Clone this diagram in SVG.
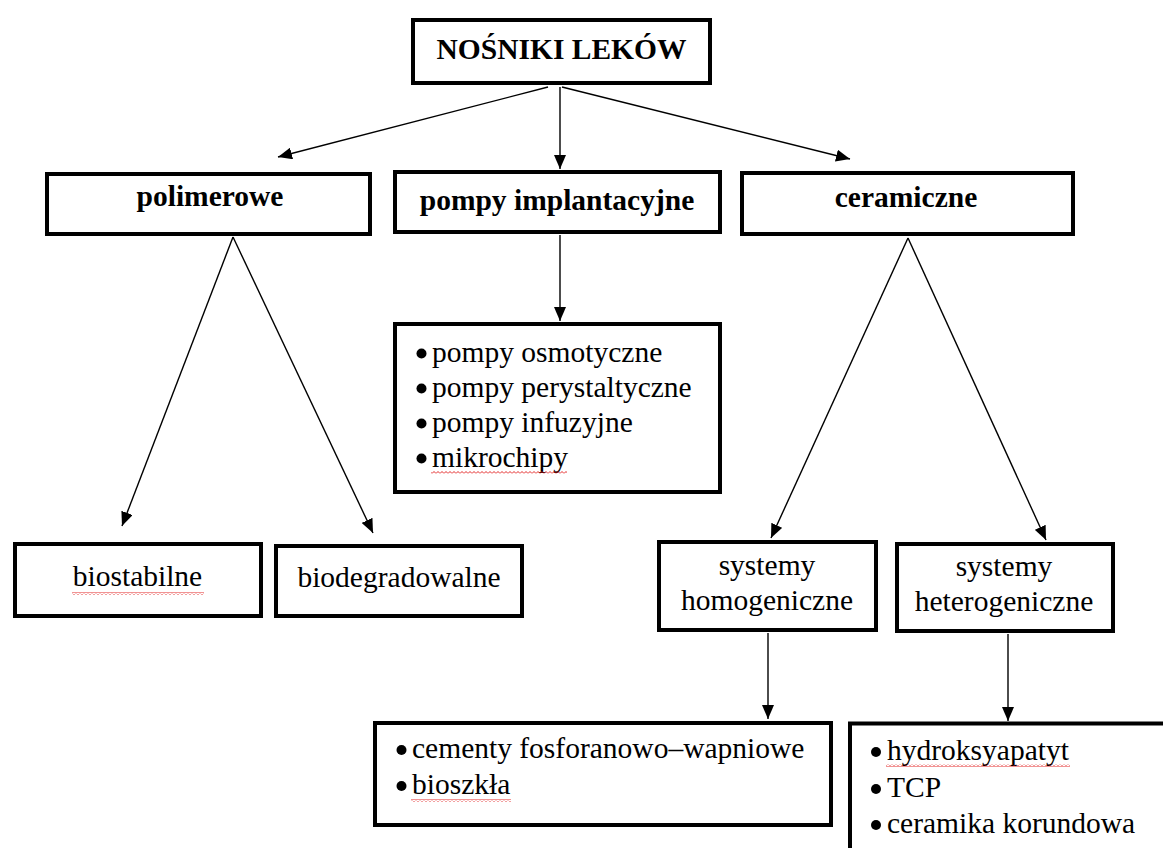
<svg xmlns="http://www.w3.org/2000/svg" width="1163" height="848" viewBox="0 0 1163 848">
<style>
.box{fill:#fff;stroke:#000;stroke-width:4;stroke-linejoin:miter}
text{font-family:'Liberation Serif','Tinos','Times New Roman','DejaVu Serif',serif;font-size:29.5px;fill:#000}
.b{font-weight:bold}
.c{text-anchor:middle}
.con line{stroke:#000;stroke-width:1.4;marker-end:url(#ah)}
.sq{fill:url(#squig)}
.dot{fill:#000}
</style>
<defs>
<marker id="ah" markerUnits="userSpaceOnUse" markerWidth="14" markerHeight="12" refX="14" refY="6" orient="auto" viewBox="0 0 14 12">
<path d="M0,0 L14,6 L0,12 z" fill="#000"/>
</marker>
<pattern id="squig" patternUnits="userSpaceOnUse" x="0" y="0" width="4" height="3">
<polyline points="0,2.5 2,0.5 4,2.5" fill="none" stroke="#e01010" stroke-width="0.9"/>
</pattern>
</defs>
<rect width="1163" height="848" fill="#fff"/>

<g id="connectors" class="con">
<line x1="560" y1="87" x2="560" y2="169"/>
<line x1="548" y1="87" x2="278" y2="157"/>
<line x1="562" y1="87" x2="850" y2="159"/>
<line x1="233" y1="237" x2="122" y2="526"/>
<line x1="233" y1="237" x2="373" y2="533"/>
<line x1="560" y1="235" x2="560" y2="321"/>
<line x1="908" y1="238" x2="771" y2="538"/>
<line x1="908" y1="238" x2="1046" y2="540"/>
<line x1="768" y1="633" x2="768" y2="719"/>
<line x1="1008" y1="634" x2="1008" y2="721"/>
</g>

<g id="nosniki">
<rect class="box" x="413" y="20" width="297" height="63"/>
<text class="b c" x="561.5" y="59">NOŚNIKI LEKÓW</text>
</g>

<g id="polimerowe">
<rect class="box" x="47" y="174" width="323" height="60"/>
<text class="b c" x="210" y="206">polimerowe</text>
</g>

<g id="pompy">
<rect class="box" x="395" y="172" width="325" height="60"/>
<text class="b c" x="557" y="210">pompy implantacyjne</text>
</g>

<g id="ceramiczne">
<rect class="box" x="742" y="173" width="331" height="61"/>
<text class="b c" x="906" y="207">ceramiczne</text>
</g>

<g id="pompy-lista">
<rect class="box" x="395" y="324" width="325" height="168"/>
<circle class="dot" cx="421.5" cy="353.5" r="5"/>
<text x="432" y="362">pompy osmotyczne</text>
<circle class="dot" cx="421.5" cy="388.5" r="5"/>
<text x="432" y="397">pompy perystaltyczne</text>
<circle class="dot" cx="421.5" cy="423.5" r="5"/>
<text x="432" y="432">pompy infuzyjne</text>
<circle class="dot" cx="421.5" cy="458.5" r="5"/>
<text x="432" y="467">mikrochipy</text>
<rect class="sq" x="431" y="471" width="136" height="3"/>
</g>

<g id="biostabilne">
<rect class="box" x="15" y="544" width="246" height="72"/>
<text class="c" x="137.5" y="586">biostabilne</text>
<rect class="sq" x="72" y="592" width="132" height="3"/>
</g>

<g id="biodegradowalne">
<rect class="box" x="276" y="546" width="246" height="70"/>
<text class="c" x="399" y="587">biodegradowalne</text>
</g>

<g id="homogeniczne">
<rect class="box" x="659" y="542" width="217" height="88"/>
<text class="c" x="767" y="575">systemy</text>
<text class="c" x="767" y="610">homogeniczne</text>
</g>

<g id="heterogeniczne">
<rect class="box" x="897" y="544" width="216" height="87"/>
<text class="c" x="1004" y="576">systemy</text>
<text class="c" x="1004" y="611">heterogeniczne</text>
</g>

<g id="homo-lista">
<rect class="box" x="375" y="723" width="456" height="102"/>
<circle class="dot" cx="401.5" cy="750" r="5"/>
<text x="412" y="758">cementy fosforanowo–wapniowe</text>
<circle class="dot" cx="401.5" cy="786" r="5"/>
<text x="412" y="794">bioszkła</text>
<rect class="sq" x="411" y="799" width="100" height="3"/>
</g>

<g id="hetero-lista">
<path d="M850,848 L850,723.5 L1163,723.5" fill="none" stroke="#000" stroke-width="4"/>
<circle class="dot" cx="876" cy="752" r="5"/>
<text x="887" y="760">hydroksyapatyt</text>
<rect class="sq" x="886" y="764" width="184" height="3"/>
<circle class="dot" cx="876" cy="789" r="5"/>
<text x="887" y="797">TCP</text>
<circle class="dot" cx="876" cy="825" r="5"/>
<text x="887" y="833">ceramika korundowa</text>
</g>
</svg>
